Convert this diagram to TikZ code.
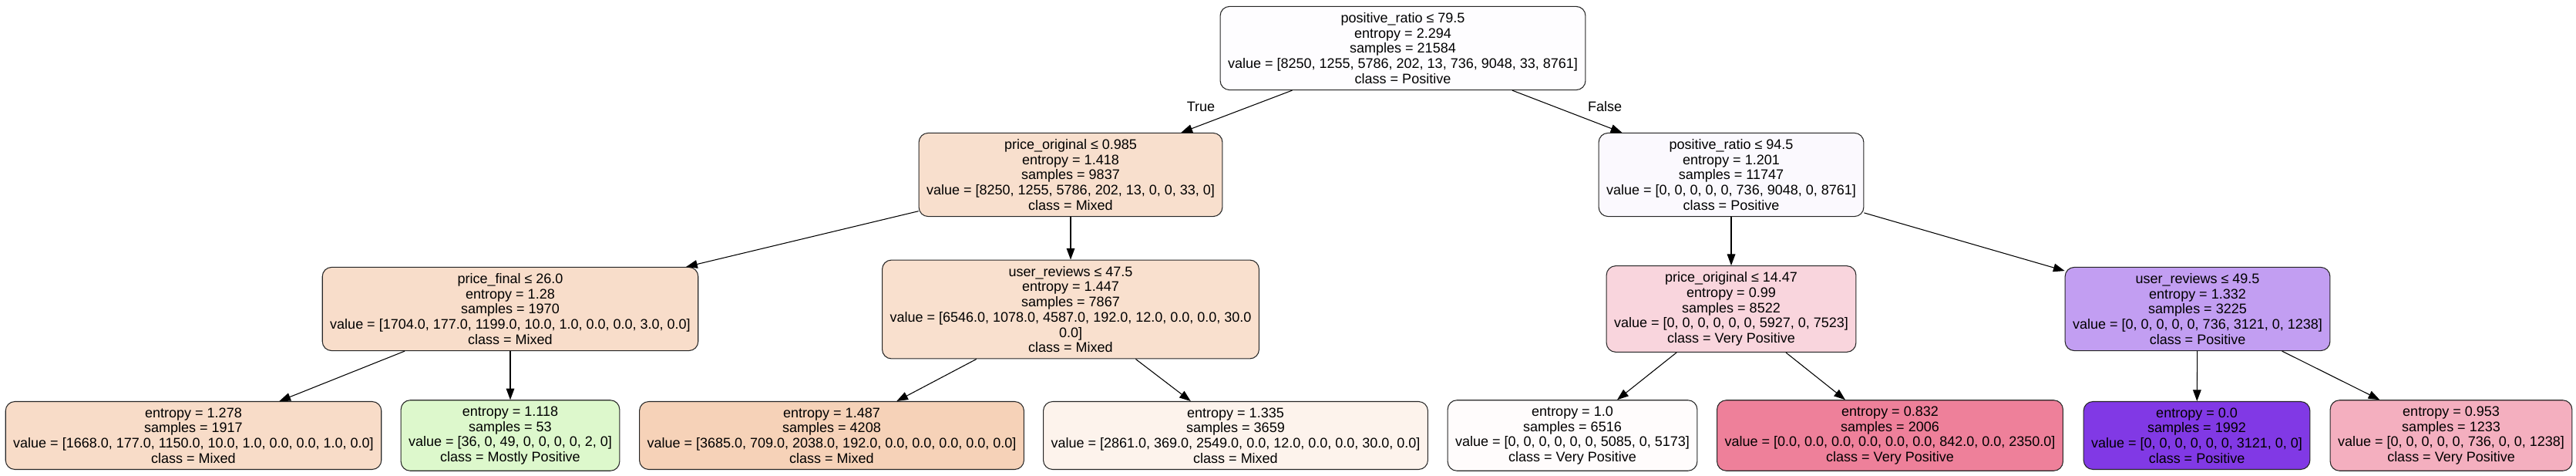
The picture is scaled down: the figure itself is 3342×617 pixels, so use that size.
\documentclass[tikz,border=0pt]{standalone}
\usepackage{fontspec}
\setmainfont{Liberation Sans}
\usepackage{xcolor}
\usetikzlibrary{arrows.meta}

\definecolor{cRoot}{HTML}{FEFDFF}
\definecolor{cMixA}{HTML}{F8DFCD}
\definecolor{cPosA}{HTML}{FBF9FE}
\definecolor{cMixB}{HTML}{F8DDCA}
\definecolor{cMixC}{HTML}{F9E0CE}
\definecolor{cVpA}{HTML}{F9D5DD}
\definecolor{cPosB}{HTML}{C29EF2}
\definecolor{cMixD}{HTML}{F8DCC8}
\definecolor{cMpos}{HTML}{DDF8CC}
\definecolor{cMixE}{HTML}{F6D2B8}
\definecolor{cMixF}{HTML}{FDF3EC}
\definecolor{cVpB}{HTML}{FFFCFC}
\definecolor{cVpC}{HTML}{EE809A}
\definecolor{cPosC}{HTML}{8139E5}
\definecolor{cVpD}{HTML}{F4AFBF}

\tikzset{
  nodo/.style={draw=black!85, line width=0.8pt, rounded corners=9pt, align=center,
    inner xsep=7.5pt, inner ysep=6pt, font=\fontsize{13.5}{14.8}\selectfont},
  freccia/.style={-{Triangle[length=11pt,width=8pt]}, line width=0.8pt},
  etichetta/.style={font=\fontsize{13.5}{14.8}\selectfont, inner sep=0pt}
}

\begin{document}
\begin{tikzpicture}[x=0.75pt, y=-0.75pt]
    \useasboundingbox (0,0) rectangle (3342,617);

    %radice
    \node[nodo, fill=cRoot] (root) at (1820,62.5) {positive\_ratio ≤ 79.5\\entropy = 2.294\\samples = 21584\\value = [8250, 1255, 5786, 202, 13, 736, 9048, 33, 8761]\\class = Positive};

    %primo livello
    \node[nodo, fill=cMixA] (pa) at (1389,226.5) {price\_original ≤ 0.985\\entropy = 1.418\\samples = 9837\\value = [8250, 1255, 5786, 202, 13, 0, 0, 33, 0]\\class = Mixed};
    \node[nodo, fill=cPosA] (pb) at (2246,226.5) {positive\_ratio ≤ 94.5\\entropy = 1.201\\samples = 11747\\value = [0, 0, 0, 0, 0, 736, 9048, 0, 8761]\\class = Positive};

    %secondo livello
    \node[nodo, fill=cMixB] (paa) at (662,400.5) {price\_final ≤ 26.0\\entropy = 1.28\\samples = 1970\\value = [1704.0, 177.0, 1199.0, 10.0, 1.0, 0.0, 0.0, 3.0, 0.0]\\class = Mixed};
    \node[nodo, fill=cMixC] (pab) at (1389,401) {user\_reviews ≤ 47.5\\entropy = 1.447\\samples = 7867\\value = [6546.0, 1078.0, 4587.0, 192.0, 12.0, 0.0, 0.0, 30.0\\0.0]\\class = Mixed};
    \node[nodo, fill=cVpA] (pba) at (2246,400.5) {price\_original ≤ 14.47\\entropy = 0.99\\samples = 8522\\value = [0, 0, 0, 0, 0, 0, 5927, 0, 7523]\\class = Very Positive};
    \node[nodo, fill=cPosB] (pbb) at (2851,400.5) {user\_reviews ≤ 49.5\\entropy = 1.332\\samples = 3225\\value = [0, 0, 0, 0, 0, 736, 3121, 0, 1238]\\class = Positive};

    %foglie
    \node[nodo, fill=cMixD] (f1) at (251,564.5) {entropy = 1.278\\samples = 1917\\value = [1668.0, 177.0, 1150.0, 10.0, 1.0, 0.0, 0.0, 1.0, 0.0]\\class = Mixed};
    \node[nodo, fill=cMpos] (f2) at (662,564.5) {entropy = 1.118\\samples = 53\\value = [36, 0, 49, 0, 0, 0, 0, 2, 0]\\class = Mostly Positive};
    \node[nodo, fill=cMixE] (f3) at (1079,564.5) {entropy = 1.487\\samples = 4208\\value = [3685.0, 709.0, 2038.0, 192.0, 0.0, 0.0, 0.0, 0.0, 0.0]\\class = Mixed};
    \node[nodo, fill=cMixF] (f4) at (1603,564.5) {entropy = 1.335\\samples = 3659\\value = [2861.0, 369.0, 2549.0, 0.0, 12.0, 0.0, 0.0, 30.0, 0.0]\\class = Mixed};
    \node[nodo, fill=cVpB] (f5) at (2040,564.5) {entropy = 1.0\\samples = 6516\\value = [0, 0, 0, 0, 0, 0, 5085, 0, 5173]\\class = Very Positive};
    \node[nodo, fill=cVpC] (f6) at (2452,564.5) {entropy = 0.832\\samples = 2006\\value = [0.0, 0.0, 0.0, 0.0, 0.0, 0.0, 842.0, 0.0, 2350.0]\\class = Very Positive};
    \node[nodo, fill=cPosC] (f7) at (2850,564.5) {entropy = 0.0\\samples = 1992\\value = [0, 0, 0, 0, 0, 0, 3121, 0, 0]\\class = Positive};
    \node[nodo, fill=cVpD] (f8) at (3180,564.5) {entropy = 0.953\\samples = 1233\\value = [0, 0, 0, 0, 0, 736, 0, 0, 1238]\\class = Very Positive};

    %frecce
    \draw[freccia] (root) -- (pa);
    \draw[freccia] (root) -- (pb);
    \draw[freccia] (pa) -- (paa);
    \draw[freccia] (pa) -- (pab);
    \draw[freccia] (pb) -- (pba);
    \draw[freccia] (pb) -- (pbb);
    \draw[freccia] (paa) -- (f1);
    \draw[freccia] (paa) -- (f2);
    \draw[freccia] (pab) -- (f3);
    \draw[freccia] (pab) -- (f4);
    \draw[freccia] (pba) -- (f5);
    \draw[freccia] (pba) -- (f6);
    \draw[freccia] (pbb) -- (f7);
    \draw[freccia] (pbb) -- (f8);

    %vero / falso
    \node[etichetta] (vero) at (1558,138) {True};
    \node[etichetta] (falso) at (2082,138) {False};
\end{tikzpicture}
\end{document}
